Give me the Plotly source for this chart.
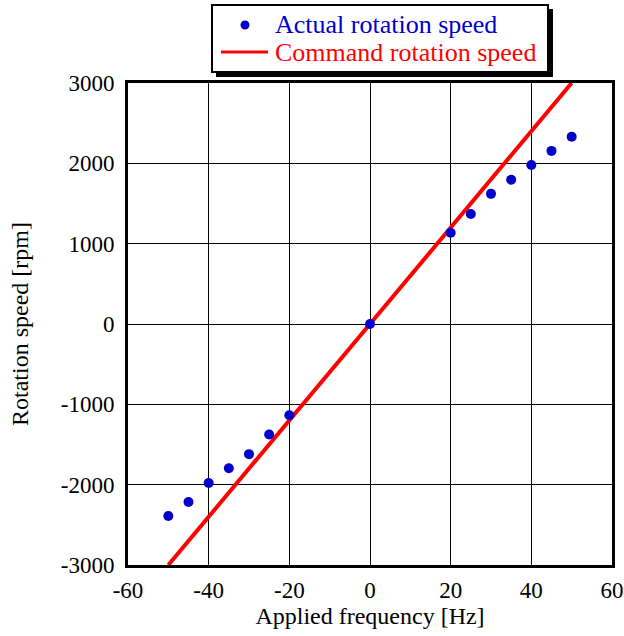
import plotly.graph_objects as go

freq_actual = [-50, -45, -40, -35, -30, -25, -20, 0, 20, 25, 30, 35, 40, 45, 50]
speed_actual = [-2390, -2215, -1980, -1795, -1620, -1375, -1135, 0, 1135, 1370, 1620, 1795, 1980, 2155, 2330]
freq_command = [-50, 50]
speed_command = [-3000, 3000]
x_ticks = [-60, -40, -20, 0, 20, 40, 60]
y_ticks = [-3000, -2000, -1000, 0, 1000, 2000, 3000]
legend_labels = ["Actual rotation speed", "Command rotation speed"]

font_family = "Liberation Serif, Times New Roman, serif"
BLUE = "#0000cc"
RED = "#ff0000"

fig = go.Figure()
fig.add_trace(go.Scatter(x=freq_command, y=speed_command, mode="lines",
                         line=dict(color=RED, width=4), name=legend_labels[1],
                         showlegend=False))
fig.add_trace(go.Scatter(x=freq_actual, y=speed_actual, mode="markers",
                         marker=dict(color=BLUE, size=10), name=legend_labels[0],
                         showlegend=False))

L, R, T, B = 128, 612, 83, 565
def px(x): return (x - L) / (R - L)
def py(y): return (B - y) / (B - T)

# custom legend (box with shadow)
fig.add_shape(type="rect", xref="paper", yref="paper",
              x0=px(216), x1=px(553), y0=py(77), y1=py(9),
              fillcolor="black", line=dict(width=0), layer="above")
fig.add_shape(type="rect", xref="paper", yref="paper",
              x0=px(212), x1=px(548), y0=py(72), y1=py(5),
              fillcolor="white", line=dict(color="black", width=2), layer="above")
fig.add_shape(type="circle", xref="paper", yref="paper",
              x0=px(240.5), x1=px(249.5), y0=py(29.5), y1=py(20.5),
              fillcolor=BLUE, line=dict(width=0), layer="above")
fig.add_shape(type="line", xref="paper", yref="paper",
              x0=px(221), x1=px(268), y0=py(52), y1=py(52),
              line=dict(color=RED, width=3), layer="above")
fig.add_annotation(xref="paper", yref="paper", x=px(273), y=py(25),
                   xanchor="left", yanchor="middle", showarrow=False,
                   text=legend_labels[0], font=dict(family=font_family, size=26, color=BLUE))
fig.add_annotation(xref="paper", yref="paper", x=px(273), y=py(52),
                   xanchor="left", yanchor="middle", showarrow=False,
                   text=legend_labels[1], font=dict(family=font_family, size=26, color=RED))

fig.update_layout(
    width=624, height=636,
    margin=dict(l=128, r=12, t=83, b=71, autoexpand=False),
    paper_bgcolor="white", plot_bgcolor="white",
    font=dict(family=font_family, size=20, color="black"),
    showlegend=False,
    xaxis=dict(range=[-60, 60], tickvals=x_ticks, ticktext=[str(v) for v in x_ticks],
               showgrid=True, gridcolor="black", gridwidth=1,
               showline=True, linecolor="black", linewidth=3, mirror=True,
               zeroline=False, ticks="", tickfont=dict(family=font_family, size=23),
               ticklabelstandoff=2,
               title=dict(text="Applied frequency [Hz]", standoff=6,
                          font=dict(family=font_family, size=24))),
    yaxis=dict(range=[-3000, 3000], tickvals=y_ticks, ticktext=[str(v) for v in y_ticks],
               showgrid=True, gridcolor="black", gridwidth=1,
               showline=True, linecolor="black", linewidth=3, mirror=True,
               zeroline=False, ticks="", tickfont=dict(family=font_family, size=23),
               ticklabelstandoff=6,
               title=dict(text="Rotation speed [rpm]", standoff=26,
                          font=dict(family=font_family, size=24))),
)

fig.write_html("out.html", config={"displayModeBar": False},
               post_script="document.body.style.margin='0px';")
